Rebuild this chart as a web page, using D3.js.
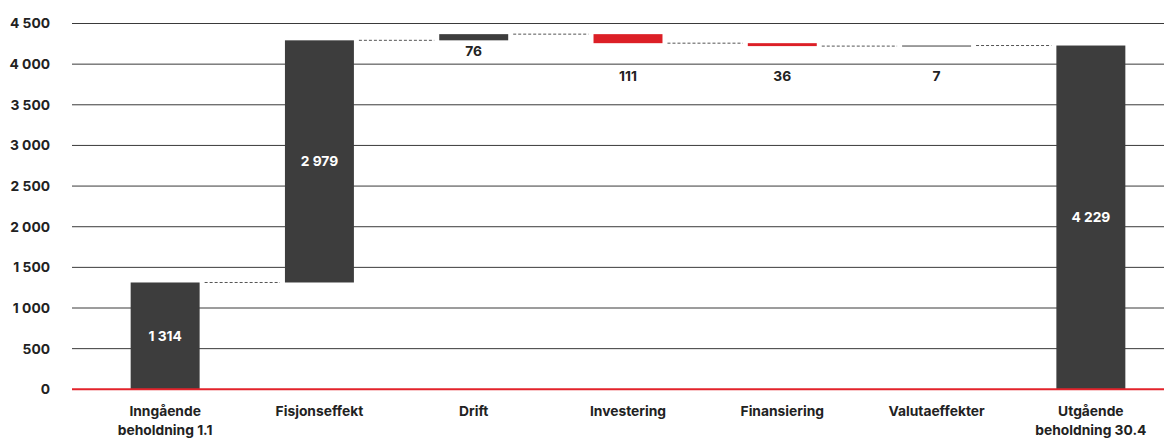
<!DOCTYPE html>
<html>
<head>
<meta charset="utf-8">
<script src="https://cdn.jsdelivr.net/npm/d3@7"></script>
<style>
  html, body { margin: 0; padding: 0; background: #ffffff; }
  svg { display: block; font-family: Inter, "Open Sans", sans-serif; }
</style>
</head>
<body>
<div id="chart"></div>
<script>
const WIDTH = 1164;
const HEIGHT = 440;

const categories = [
  "Inngående\nbeholdning 1.1",
  "Fisjonseffekt",
  "Drift",
  "Investering",
  "Finansiering",
  "Valutaeffekter",
  "Utgående\nbeholdning 30.4",
];
const values = [1314, 2979, 76, -111, -36, 7, 4229];
const kinds = ["total", "delta", "delta", "delta", "delta", "delta", "total"];
const yTicks = [0, 500, 1000, 1500, 2000, 2500, 3000, 3500, 4000, 4500];

const DARK = "#3d3d3d";
const RED = "#dc1f26";
const TEXT = "#222222";
const LABEL_GAP = 11;
const INSIDE_MIN = 24;
const FONT_SIZE = 13.8;

const locale = d3.formatLocale({ decimal: ",", thousands: "\u00a0", grouping: [3], currency: ["", " kr"] });
const fmt = locale.format(",d");

// running totals for the waterfall
let running = 0;
const steps = categories.map((name, i) => {
  const value = values[i];
  let start, end;
  if (kinds[i] === "total") {
    start = 0;
    end = value;
  } else {
    start = running;
    end = running + value;
  }
  running = end;
  return { name, value, kind: kinds[i], start, end, level: end };
});

const x = d3.scaleBand()
  .domain(categories)
  .range([88, 1168])
  .paddingInner(0.553)
  .paddingOuter(0.2765);

const y = d3.scaleLinear()
  .domain([0, 4500])
  .range([389.3, 23.5]);

const svg = d3.select("#chart")
  .append("svg")
  .attr("width", WIDTH)
  .attr("height", HEIGHT)
  .attr("viewBox", `0 0 ${WIDTH} ${HEIGHT}`);

// grid lines
svg.append("g")
  .selectAll("line")
  .data(yTicks.filter((t) => t > 0))
  .join("line")
  .attr("x1", 72)
  .attr("x2", WIDTH)
  .attr("y1", (t) => y(t))
  .attr("y2", (t) => y(t))
  .attr("stroke", "#3a3a3a")
  .attr("stroke-width", 1);

// y tick labels
svg.append("g")
  .selectAll("text")
  .data(yTicks)
  .join("text")
  .attr("x", 50)
  .attr("y", (t) => y(t))
  .attr("dy", "0.36em")
  .attr("text-anchor", "end")
  .attr("fill", TEXT)
  .attr("font-size", FONT_SIZE)
  .attr("font-weight", 700)
  .text((t) => fmt(t));

// connectors
const connectors = steps.slice(0, -1).map((s, i) => ({
  x1: x(s.name) + x.bandwidth() + 5,
  x2: x(steps[i + 1].name) - 5,
  level: s.level,
}));

svg.append("g")
  .selectAll("line")
  .data(connectors)
  .join("line")
  .attr("x1", (c) => c.x1)
  .attr("x2", (c) => c.x2)
  .attr("y1", (c) => y(c.level))
  .attr("y2", (c) => y(c.level))
  .attr("stroke", "#555555")
  .attr("stroke-width", 1)
  .attr("stroke-dasharray", "3,2");

// bars
svg.append("g")
  .selectAll("rect")
  .data(steps)
  .join("rect")
  .attr("x", (s) => x(s.name))
  .attr("width", x.bandwidth())
  .attr("y", (s) => y(Math.max(s.start, s.end)))
  .attr("height", (s) => Math.max(1, Math.abs(y(s.start) - y(s.end))))
  .attr("fill", (s) => (s.value < 0 ? RED : DARK));

// zero line
svg.append("line")
  .attr("x1", 72)
  .attr("x2", WIDTH)
  .attr("y1", y(0))
  .attr("y2", y(0))
  .attr("stroke", "#e3232b")
  .attr("stroke-width", 2);

// value labels
function labelY(s) {
  const top = y(Math.max(s.start, s.end));
  const bottom = y(Math.min(s.start, s.end));
  if (bottom - top >= INSIDE_MIN) return (top + bottom) / 2;
  let ly = bottom + LABEL_GAP;
  // keep small labels clear of the grid lines
  yTicks.forEach((t) => {
    const gy = y(t);
    if (Math.abs(ly - gy) < 12) ly = gy + 12;
  });
  return ly;
}

svg.append("g")
  .selectAll("text")
  .data(steps)
  .join("text")
  .attr("x", (s) => x(s.name) + x.bandwidth() / 2)
  .attr("y", labelY)
  .attr("dy", "0.36em")
  .attr("text-anchor", "middle")
  .attr("font-size", FONT_SIZE)
  .attr("font-weight", 700)
  .attr("fill", (s) => (Math.abs(y(s.start) - y(s.end)) >= INSIDE_MIN ? "#ffffff" : TEXT))
  .text((s) => fmt(Math.abs(s.value)));

// category labels
const catLabels = svg.append("g")
  .selectAll("text")
  .data(categories)
  .join("text")
  .attr("x", (c) => x(c) + x.bandwidth() / 2)
  .attr("y", 416)
  .attr("text-anchor", "middle")
  .attr("font-size", FONT_SIZE)
  .attr("font-weight", 700)
  .attr("fill", TEXT);

catLabels.selectAll("tspan")
  .data((c) => c.split("\n"))
  .join("tspan")
  .attr("x", function () { return d3.select(this.parentNode).attr("x"); })
  .attr("dy", (_, i) => (i === 0 ? 0 : 19))
  .text((line) => line);
</script>
</body>
</html>
